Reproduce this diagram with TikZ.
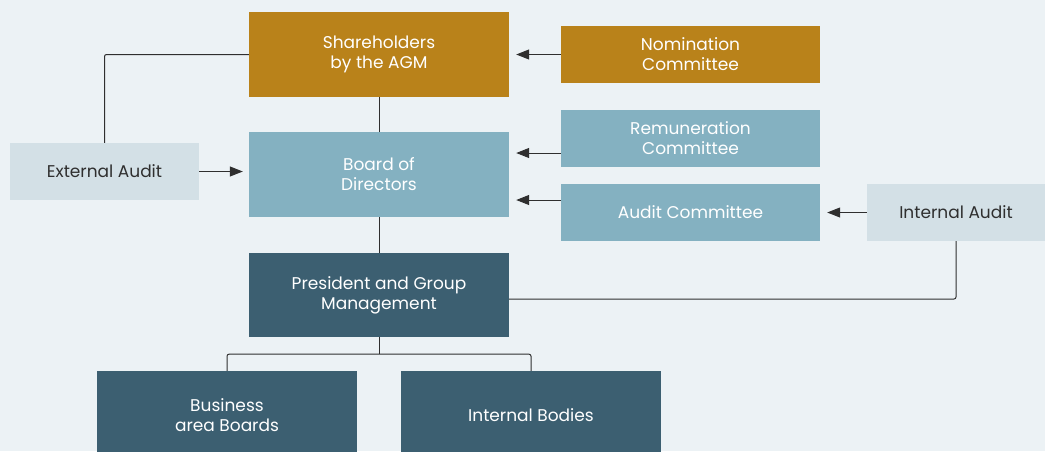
\documentclass[tikz,border=0pt]{standalone}
\usepackage{fontspec}
\setmainfont{Poppins}
\usetikzlibrary{arrows.meta,positioning}

\definecolor{bgcol}{HTML}{ECF2F5}
\definecolor{gold}{HTML}{B9821A}
\definecolor{board}{HTML}{84B1C1}
\definecolor{pale}{HTML}{D3E0E6}
\definecolor{dark}{HTML}{3C5F71}
\definecolor{wire}{HTML}{2F2F2F}

\tikzset{
  box/.style={rectangle, inner sep=0pt, align=center, text=white,
    minimum width=260pt, minimum height=85pt, font=\fontsize{17}{20}\selectfont},
  side/.style={box, minimum width=259pt, minimum height=57pt},
  audbox/.style={box, fill=pale, text=wire, minimum height=57pt},
  link/.style={wire, line width=1pt},
  arr/.style={link, -{Triangle[length=13pt,width=10pt]}, shorten >=7pt},
}

\begin{document}
\begin{tikzpicture}[x=1pt,y=-1pt,node distance=120pt,on grid]
  \useasboundingbox (0,0) rectangle (1045,451);
  \clip (0,0) rectangle (1045,451);
  \fill[bgcol] (0,0) rectangle (1045,451);

  \node[box, fill=gold] (sh) at (379,54.5) {Shareholders\\by the AGM};
  \node[box, fill=board, below=of sh] (bod) {Board of\\Directors};
  \node[box, fill=dark, below=120.5pt of bod, minimum height=84pt] (pgm) {President and Group\\Management};
  \node[side, fill=gold, right=311.5pt of sh] (nom) {Nomination\\Committee};
  \node[side, fill=board, below=84pt of nom] (rem) {Remuneration\\Committee};
  \node[side, fill=board, below=74pt of rem] (aud) {Audit Committee};
  \node[audbox, minimum width=189pt, left=274.5pt of bod, yshift=3pt] (ext) {External Audit};
  \node[audbox, minimum width=178pt, right=265.5pt of aud] (int) {Internal Audit};
  \node[box, fill=dark, minimum height=88pt, below left=120pt and 152pt of pgm] (bab) {Business\\area Boards};
  \node[box, fill=dark, minimum height=88pt, below right=120pt and 152pt of pgm] (ib) {Internal Bodies};

  % lines between the levels
  \draw[link] (sh) -- (bod);
  \draw[link] (bod) -- (pgm);
  \draw[link, rounded corners=2pt] (ext.north) |- (sh.west);
  \coordinate (pg) at ([yshift=-4pt]pgm.east);
  \draw[link, rounded corners=2pt] (pg) -| (int.south);
  \coordinate (br) at ([yshift=-17pt]pgm.south);
  \draw[link] (pgm.south) -- (br);
  \draw[link, rounded corners=2pt] (bab.north) |- (br) -| (ib.north);

  % arrows into the boxes
  \coordinate (r1) at ([yshift=-14.5pt]rem.west);
  \coordinate (a1) at ([yshift=12.5pt]aud.west);
  \draw[arr] (nom.west) -- (sh.east);
  \draw[arr] (r1) -- (r1 -| bod.east);
  \draw[arr] (a1) -- (a1 -| bod.east);
  \draw[arr, shorten >=6pt] (ext.east) -- (ext.east -| bod.west);
  \draw[arr] (int.west) -- (aud.east);
\end{tikzpicture}
\end{document}
